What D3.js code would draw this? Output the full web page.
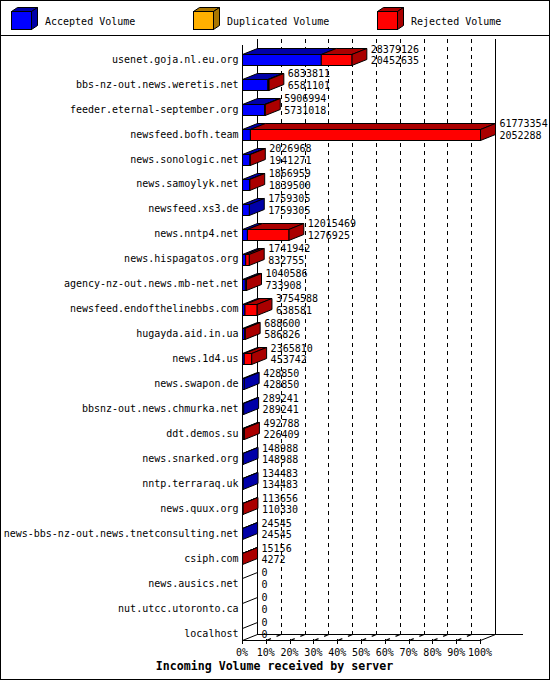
<!DOCTYPE html>
<html>
<head>
<meta charset="utf-8">
<script src="https://cdn.jsdelivr.net/npm/d3@7"></script>
<style>
  body { margin: 0; background: #fff; }
  svg text { font-family: "DejaVu Sans Mono", monospace; font-size: 10px; fill: #000; }
  .title { font-weight: bold; font-size: 11.6px; }
</style>
</head>
<body>
<div id="chart-area"></div>
<script>

// DATA
var hosts = ["usenet.goja.nl.eu.org", "bbs-nz-out.news.weretis.net", "feeder.eternal-september.org",
    "newsfeed.bofh.team", "news.sonologic.net", "news.samoylyk.net", "newsfeed.xs3.de", "news.nntp4.net",
    "news.hispagatos.org", "agency-nz-out.news.mb-net.net", "newsfeed.endofthelinebbs.com",
    "hugayda.aid.in.ua", "news.1d4.us", "news.swapon.de", "bbsnz-out.news.chmurka.net", "ddt.demos.su",
    "news.snarked.org", "nntp.terraraq.uk", "news.quux.org", "news-bbs-nz-out.news.tnetconsulting.net",
    "csiph.com", "news.ausics.net", "nut.utcc.utoronto.ca", "localhost"];

var totalVolume = [28379126, 6833811, 5906994, 61773354, 2026968, 1866959, 1759305, 12015469,
    1741942, 1040586, 3754588, 688600, 2365810, 428850, 289241, 492788,
    148988, 134483, 113656, 24545, 15156, 0, 0, 0];

var acceptedVolume = [20452635, 6581101, 5731018, 2052288, 1941271, 1839500, 1759305, 1276925,
    832755, 733908, 638581, 586826, 453742, 428850, 289241, 226409,
    148988, 134483, 110330, 24545, 4272, 0, 0, 0];

var xTicks = [0, 10, 20, 30, 40, 50, 60, 70, 80, 90, 100];
var legendNames = ["Accepted Volume", "Duplicated Volume", "Rejected Volume"];
var xTitle = "Incoming Volume received by server";

// colours: front / shaded
var colors = {
    accepted: ["#0000ff", "#0000a8"],
    duplicated: ["#ffb000", "#aa7600"],
    rejected: ["#ff0000", "#aa0000"]
};

// SVG drawing area
var W = 550, H = 680;
var dx = 15, dy = -6;          // 3D depth offset

var svg = d3.select("#chart-area").append("svg")
    .attr("width", W)
    .attr("height", H);

svg.append("rect")
    .attr("x", 0.5).attr("y", 0.5)
    .attr("width", W - 1).attr("height", H - 1)
    .attr("fill", "#fff").attr("stroke", "#000");

svg.append("line")
    .attr("x1", 0).attr("x2", W)
    .attr("y1", 35.5).attr("y2", 35.5)
    .attr("stroke", "#000");

// LEGEND
var legendX = [11, 193, 377];
var legendKeys = ["accepted", "duplicated", "rejected"];
var legend = svg.selectAll(".legend")
    .data(legendNames)
    .enter().append("g")
    .attr("class", "legend")
    .attr("transform", function(d, i) { return "translate(" + legendX[i] + ",0)"; });

legend.each(function(d, i) {
    var g = d3.select(this), c = colors[legendKeys[i]];
    var x0 = 0.5, y0 = 11.5, w = 20, h = 18, ldx = 6, ldy = -4;
    g.append("polygon")
        .attr("points", [[x0, y0], [x0 + ldx, y0 + ldy], [x0 + w + ldx, y0 + ldy], [x0 + w, y0]].join(" "))
        .attr("fill", c[1]).attr("stroke", "#000");
    g.append("polygon")
        .attr("points", [[x0 + w, y0], [x0 + w + ldx, y0 + ldy], [x0 + w + ldx, y0 + h + ldy], [x0 + w, y0 + h]].join(" "))
        .attr("fill", c[1]).attr("stroke", "#000");
    g.append("rect")
        .attr("x", x0).attr("y", y0).attr("width", w).attr("height", h)
        .attr("fill", c[0]).attr("stroke", "#000");
    g.append("text")
        .attr("x", 34).attr("y", 24.5)
        .text(d);
});

//SCALES
var maxTotal = d3.max(totalVolume);

var x = d3.scaleLinear()
    .domain([0, 100])
    .range([242.5, 480.5]);

var y = d3.scaleBand()
    .domain(hosts)
    .range([44, 44 + hosts.length * 24.95]);

var frontTop = 45, frontBottom = 640.5;

function pct(v) { return v / maxTotal * 100; }

// back wall + grid
var grid = svg.append("g").attr("shape-rendering", "crispEdges");

grid.selectAll(".grid")
    .data(xTicks.slice(1, -1))
    .enter().append("line")
    .attr("class", "grid")
    .attr("x1", function(d) { return x(d) + dx; })
    .attr("x2", function(d) { return x(d) + dx; })
    .attr("y1", frontBottom + dy)
    .attr("y2", frontTop + dy)
    .attr("stroke", "#000")
    .attr("stroke-dasharray", "4,4");

grid.append("line")
    .attr("x1", x(0) + dx).attr("x2", x(0) + dx)
    .attr("y1", frontTop + dy).attr("y2", frontBottom + dy)
    .attr("stroke", "#000");

grid.append("line")
    .attr("x1", x(100) + dx).attr("x2", x(100) + dx)
    .attr("y1", frontTop + dy).attr("y2", frontBottom + dy)
    .attr("stroke", "#000");

grid.append("line")
    .attr("x1", x(0) + dx).attr("x2", 523)
    .attr("y1", frontBottom + dy).attr("y2", frontBottom + dy)
    .attr("stroke", "#000");

// floor depth dashes and ticks
var floor = svg.append("g");

floor.selectAll(".depth")
    .data(xTicks.slice(1, -1))
    .enter().append("line")
    .attr("class", "depth")
    .attr("x1", function(d) { return x(d); })
    .attr("x2", function(d) { return x(d) + dx; })
    .attr("y1", frontBottom)
    .attr("y2", frontBottom + dy)
    .attr("stroke", "#000")
    .attr("stroke-width", 1.2)
    .attr("stroke-dasharray", "5,6");

floor.append("line")
    .attr("x1", x(0)).attr("x2", x(0) + dx)
    .attr("y1", frontBottom).attr("y2", frontBottom + dy)
    .attr("stroke", "#000");

floor.append("line")
    .attr("x1", x(100)).attr("x2", x(100) + dx)
    .attr("y1", frontBottom).attr("y2", frontBottom + dy)
    .attr("stroke", "#000");

//AXES
var axes = svg.append("g").attr("shape-rendering", "crispEdges");

axes.append("line")
    .attr("x1", x(0)).attr("x2", x(100))
    .attr("y1", frontBottom).attr("y2", frontBottom)
    .attr("stroke", "#000");

axes.append("line")
    .attr("x1", x(0)).attr("x2", x(0))
    .attr("y1", frontTop).attr("y2", frontBottom + 3)
    .attr("stroke", "#000");

axes.selectAll(".tick")
    .data(xTicks)
    .enter().append("line")
    .attr("class", "tick")
    .attr("x1", function(d) { return x(d); })
    .attr("x2", function(d) { return x(d); })
    .attr("y1", frontBottom - 2)
    .attr("y2", frontBottom + 3)
    .attr("stroke", "#000");

svg.selectAll(".xlabel")
    .data(xTicks)
    .enter().append("text")
    .attr("class", "xlabel")
    .attr("x", function(d) { return x(d) - 0.5; })
    .attr("y", 656)
    .style("text-anchor", "middle")
    .text(function(d) { return d + "%"; });

svg.append("text")
    .attr("class", "title")
    .attr("x", 274.5)
    .attr("y", 670)
    .style("text-anchor", "middle")
    .text(xTitle);

// BARS
var barH = 11;
var bars = svg.selectAll(".bar")
    .data(hosts)
    .enter().append("g")
    .attr("class", "bar");

bars.each(function(host, i) {
    var g = d3.select(this);
    var top = Math.round(y(host) + 10) + 0.5;
    var acc = acceptedVolume[i], tot = totalVolume[i];

    if (tot === 0) {
        g.append("line")
            .attr("x1", x(0)).attr("y1", top)
            .attr("x2", x(0) + dx).attr("y2", top + dy)
            .attr("stroke", "#000");
        return;
    }

    var segs = [];
    if (acc > 0) segs.push({ from: 0, to: pct(acc), c: colors.accepted });
    if (tot - acc > 0) segs.push({ from: pct(acc), to: pct(tot), c: colors.rejected });

    segs.forEach(function(s, k) {
        var x0 = x(s.from), x1 = x(s.to);
        g.append("polygon")
            .attr("points", [[x0, top], [x0 + dx, top + dy], [x1 + dx, top + dy], [x1, top]].join(" "))
            .attr("fill", s.c[1]).attr("stroke", "#000");
        if (k === segs.length - 1) {
            g.append("polygon")
                .attr("points", [[x1, top], [x1 + dx, top + dy], [x1 + dx, top + barH + dy], [x1, top + barH]].join(" "))
                .attr("fill", s.c[1]).attr("stroke", "#000");
        }
        g.append("rect")
            .attr("x", x0).attr("y", top)
            .attr("width", x1 - x0).attr("height", barH)
            .attr("fill", s.c[0]).attr("stroke", "#000");
    });
});

// category labels
svg.selectAll(".ylabel")
    .data(hosts)
    .enter().append("text")
    .attr("class", "ylabel")
    .attr("x", 238.5)
    .attr("y", function(d) { return y(d) + 18.7; })
    .style("text-anchor", "end")
    .text(function(d) { return d; });

// value labels
var vals = svg.selectAll(".vals")
    .data(hosts)
    .enter().append("g")
    .attr("class", "vals");

vals.append("text")
    .attr("x", function(d, i) { return x(pct(totalVolume[i])) + dx + 4; })
    .attr("y", function(d) { return y(d) + 8.5; })
    .text(function(d, i) { return totalVolume[i]; });

vals.append("text")
    .attr("x", function(d, i) { return x(pct(totalVolume[i])) + dx + 4; })
    .attr("y", function(d) { return y(d) + 20; })
    .text(function(d, i) { return acceptedVolume[i]; });

</script>
</body>
</html>
